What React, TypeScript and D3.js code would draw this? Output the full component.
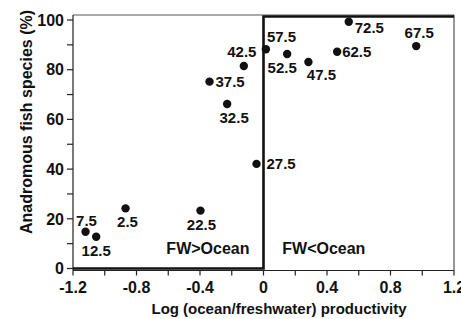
import React from "react";
import * as d3 from "d3";

const xValues = [-1.121, -1.054, -0.869, -0.397, -0.044, -0.229, -0.34, -0.124, 0.015, 0.149, 0.283, 0.464, 0.537, 0.962];
const yValues = [14.8, 12.8, 24.2, 23.3, 42.1, 66.2, 75.2, 81.5, 88.2, 86.3, 83.1, 87.2, 99.3, 89.5];
const pointLabels = ["7.5", "12.5", "2.5", "22.5", "27.5", "32.5", "37.5", "42.5", "57.5", "52.5", "47.5", "62.5", "72.5", "67.5"];
// label placement: [text-anchor, dx, dy]
const labelPlacement: [string, number, number][] = [
  ["middle", 1, -6],
  ["middle", 0, 19],
  ["middle", 2, 19],
  ["middle", 1, 19],
  ["start", 10, 5],
  ["middle", 7, 19],
  ["start", 6, 5],
  ["middle", -2, -9],
  ["start", 1, -7],
  ["middle", -5, 19],
  ["middle", 13, 18],
  ["start", 5, 5],
  ["start", 6, 11],
  ["middle", 3, -8],
];

const stepX = [-1.2, 0, 0, 1.2];
const stepY = [0, 0, 101.4, 101.4];

const xTickValues = [-1.2, -0.8, -0.4, 0, 0.4, 0.8, 1.2];
const xTickLabels = ["-1.2", "-0.8", "-0.4", "0", "0.4", "0.8", "1.2"];
const xMinorTicks = [-1.2, -1.0, -0.8, -0.6, -0.4, -0.2, 0, 0.2, 0.4, 0.6, 0.8, 1.0, 1.2];
const yTickValues = [0, 20, 40, 60, 80, 100];
const yMinorTicks = [0, 10, 20, 30, 40, 50, 60, 70, 80, 90, 100];

const xTitle = "Log (ocean/freshwater) productivity";
const yTitle = "Anadromous fish species (%)";
const regionLabels = ["FW>Ocean", "FW<Ocean"];

const W = 461;
const H = 319;
const left = 73;
const right = 454;
const top = 15;
const bottomAxis = 270.5;

export default function App() {
  const x = d3.scaleLinear().domain([-1.2, 1.2]).range([left, right]);
  const y = d3.scaleLinear().domain([0, 100]).range([268.5, 20]);
  const font = "'Liberation Sans', Arial, Helvetica, sans-serif";
  const stepLine = d3
    .line<number>()
    .x((_, i) => x(stepX[i]))
    .y((_, i) => y(stepY[i]));

  return (
    <svg
      width={W}
      height={H}
      style={{ position: "absolute", left: 0, top: 0, background: "#fff" }}
      fontFamily={font}
      fontWeight="bold"
    >
      {/* frame */}
      <line x1={left} x2={right} y1={top} y2={top} stroke="#555" strokeWidth={1} />
      <line x1={right} x2={right} y1={top} y2={bottomAxis} stroke="#333" strokeWidth={1} />
      <line x1={left} x2={left} y1={top} y2={bottomAxis} stroke="#222" strokeWidth={1.2} />
      <line x1={left} x2={right} y1={bottomAxis} y2={bottomAxis} stroke="#222" strokeWidth={1.2} />

      {/* y ticks */}
      {yMinorTicks.map((v) => (
        <line key={"ym" + v} x1={left - 6} x2={left} y1={y(v)} y2={y(v)} stroke="#222" strokeWidth={1.2} />
      ))}
      {yTickValues.map((v) => (
        <text key={"yt" + v} x={left - 9} y={y(v)} dy="0.36em" textAnchor="end" fontSize={16} fill="#111">
          {v}
        </text>
      ))}

      {/* x ticks */}
      {xMinorTicks.map((v) => (
        <line key={"xm" + v} x1={x(v)} x2={x(v)} y1={bottomAxis} y2={bottomAxis + 5} stroke="#222" strokeWidth={1.2} />
      ))}
      {xTickValues.map((v, i) => (
        <text key={"xt" + v} x={x(v)} y={292.5} textAnchor="middle" fontSize={16} fill="#111">
          {xTickLabels[i]}
        </text>
      ))}

      {/* step line */}
      <path d={stepLine(stepX) || ""} fill="none" stroke="#111" strokeWidth={2.6} strokeLinejoin="miter" />

      {/* points */}
      {xValues.map((v, i) => (
        <circle key={"p" + i} cx={x(v)} cy={y(yValues[i])} r={4.2} fill="#111" />
      ))}
      {xValues.map((v, i) => {
        const [anchor, dx, dy] = labelPlacement[i];
        return (
          <text
            key={"l" + i}
            x={x(v) + dx}
            y={y(yValues[i]) + dy}
            textAnchor={anchor}
            fontSize={15}
            fill="#111"
          >
            {pointLabels[i]}
          </text>
        );
      })}

      {/* region labels */}
      <text x={x(-0.35)} y={254} textAnchor="middle" fontSize={16} fill="#111">
        {regionLabels[0]}
      </text>
      <text x={x(0.38)} y={254} textAnchor="middle" fontSize={16} fill="#111">
        {regionLabels[1]}
      </text>

      {/* axis titles */}
      <text x={279} y={314} textAnchor="middle" fontSize={15} fill="#111">
        {xTitle}
      </text>
      <text transform="translate(32,122) rotate(-90)" textAnchor="middle" fontSize={16} fill="#111">
        {yTitle}
      </text>
    </svg>
  );
}
